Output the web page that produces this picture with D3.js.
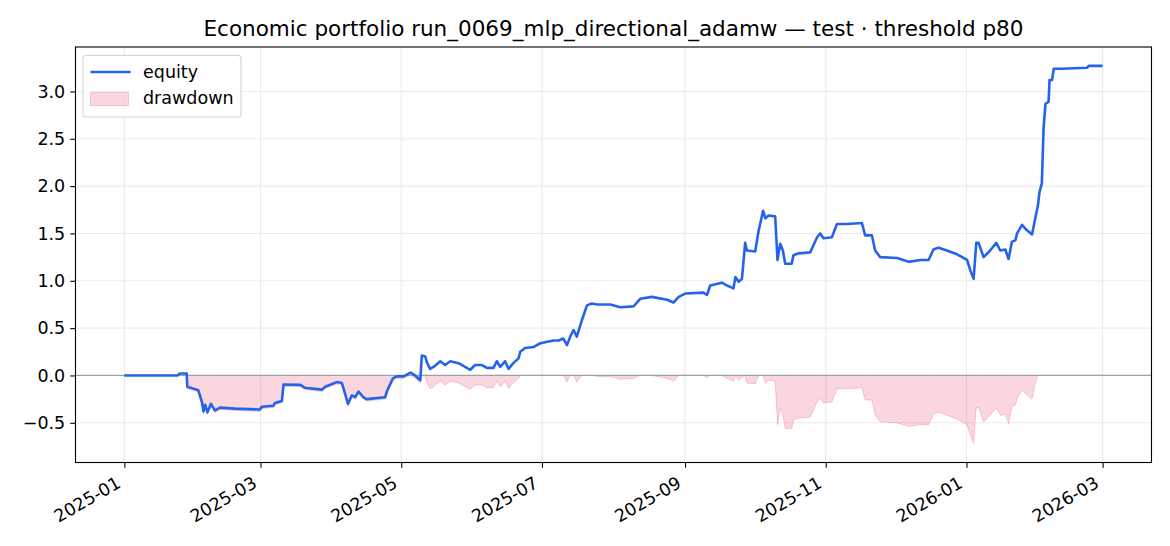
<!DOCTYPE html>
<html>
<head>
<meta charset="utf-8">
<script src="https://cdn.jsdelivr.net/npm/d3@7"></script>
<style>
  body { margin: 0; background: #fff; }
  svg { display: block; font-family: "DejaVu Sans", sans-serif; }
</style>
</head>
<body>
<svg width="1170" height="546"></svg>
<script>
// time stamps (day + hour) of the sampled points
const dates = [
  "2025-01-01 00","2025-01-24 00","2025-01-25 00","2025-01-28 00","2025-01-28 06","2025-02-02 00","2025-02-03 14","2025-02-04 06","2025-02-05 00","2025-02-06 00",
  "2025-02-07 12","2025-02-09 06","2025-02-11 12","2025-02-18 00","2025-02-28 18","2025-03-01 14","2025-03-06 14","2025-03-07 06","2025-03-10 06","2025-03-11 00",
  "2025-03-18 06","2025-03-20 06","2025-03-27 14","2025-03-29 00","2025-04-03 00","2025-04-05 06","2025-04-06 00","2025-04-07 22","2025-04-09 14","2025-04-11 00",
  "2025-04-12 12","2025-04-14 14","2025-04-16 00","2025-04-24 00","2025-04-25 00","2025-04-27 10","2025-04-29 00","2025-05-02 00","2025-05-05 00","2025-05-07 00",
  "2025-05-09 06","2025-05-09 22","2025-05-11 10","2025-05-12 02","2025-05-13 12","2025-05-15 00","2025-05-17 22","2025-05-20 00","2025-05-22 06","2025-05-25 20",
  "2025-05-28 16","2025-05-30 22","2025-06-02 00","2025-06-05 00","2025-06-07 02","2025-06-10 00","2025-06-11 10","2025-06-12 22","2025-06-15 00","2025-06-16 12",
  "2025-06-18 14","2025-06-20 20","2025-06-21 14","2025-06-23 16","2025-06-27 06","2025-06-30 06","2025-07-06 00","2025-07-08 06","2025-07-10 06","2025-07-11 20",
  "2025-07-13 06","2025-07-14 16","2025-07-16 02","2025-07-18 06","2025-07-20 12","2025-07-22 14","2025-07-24 20","2025-07-30 14","2025-08-03 22","2025-08-09 16",
  "2025-08-12 14","2025-08-17 14","2025-08-24 06","2025-08-27 00","2025-08-29 06","2025-09-01 02","2025-09-09 00","2025-09-10 12","2025-09-11 22","2025-09-17 00",
  "2025-09-19 06","2025-09-22 00","2025-09-22 20","2025-09-24 06","2025-09-25 16","2025-09-27 02","2025-09-27 20","2025-10-01 10","2025-10-02 22","2025-10-04 20",
  "2025-10-05 20","2025-10-07 06","2025-10-10 02","2025-10-11 02","2025-10-12 06","2025-10-13 10","2025-10-14 10","2025-10-17 06","2025-10-18 00","2025-10-20 06",
  "2025-10-25 06","2025-10-28 06","2025-10-29 14","2025-10-31 00","2025-11-03 16","2025-11-05 20","2025-11-10 06","2025-11-16 16","2025-11-18 02","2025-11-21 00",
  "2025-11-22 10","2025-11-24 14","2025-12-01 22","2025-12-06 22","2025-12-12 00","2025-12-15 14","2025-12-17 16","2025-12-19 22","2025-12-23 12","2025-12-27 22",
  "2026-01-01 06","2026-01-02 16","2026-01-04 02","2026-01-05 06","2026-01-06 06","2026-01-08 10","2026-01-11 06","2026-01-13 22","2026-01-15 16","2026-01-17 20",
  "2026-01-19 06","2026-01-20 16","2026-01-22 06","2026-01-22 22","2026-01-25 02","2026-01-26 12","2026-01-29 10","2026-01-30 20","2026-02-01 00","2026-02-01 16",
  "2026-02-02 16","2026-02-03 10","2026-02-04 06","2026-02-05 14","2026-02-06 00","2026-02-07 02","2026-02-07 20","2026-02-11 10","2026-02-22 06","2026-02-23 00",
  "2026-03-01 00"
];

const equity = [
  0, 0, 0.02, 0.02, -0.12, -0.155, -0.28, -0.38, -0.31, -0.39,
  -0.30, -0.37, -0.34, -0.35, -0.36, -0.33, -0.32, -0.29, -0.27, -0.095,
  -0.10, -0.13, -0.15, -0.12, -0.07, -0.08, -0.14, -0.30, -0.21, -0.23,
  -0.17, -0.23, -0.25, -0.23, -0.155, -0.03, -0.01, -0.01, 0.03, 0.0,
  -0.05, 0.21, 0.20, 0.14, 0.07, 0.09, 0.15, 0.11, 0.15, 0.13,
  0.09, 0.06, 0.11, 0.11, 0.08, 0.08, 0.15, 0.09, 0.15, 0.07,
  0.13, 0.18, 0.25, 0.29, 0.30, 0.34, 0.37, 0.37, 0.39, 0.32,
  0.41, 0.48, 0.41, 0.58, 0.74, 0.76, 0.75, 0.75, 0.72, 0.73,
  0.81, 0.83, 0.80, 0.77, 0.83, 0.865, 0.875, 0.85, 0.95, 0.98,
  0.95, 0.92, 1.04, 0.99, 1.02, 1.40, 1.32, 1.31, 1.53, 1.74,
  1.66, 1.69, 1.68, 1.22, 1.39, 1.32, 1.18, 1.18, 1.27, 1.29,
  1.30, 1.46, 1.50, 1.45, 1.46, 1.60, 1.60, 1.61, 1.48, 1.48,
  1.32, 1.25, 1.24, 1.20, 1.22, 1.22, 1.33, 1.35, 1.32, 1.28,
  1.22, 1.11, 1.02, 1.40, 1.40, 1.25, 1.32, 1.40, 1.32, 1.33,
  1.23, 1.41, 1.43, 1.50, 1.59, 1.55, 1.49, 1.66, 1.80, 1.94,
  2.03, 2.61, 2.87, 2.89, 3.12, 3.12, 3.24, 3.24, 3.25, 3.27,
  3.27
];

const drawdown = [
  0, 0, 0, 0, -0.14, -0.175, -0.30, -0.40, -0.33, -0.41,
  -0.32, -0.39, -0.36, -0.37, -0.38, -0.35, -0.34, -0.31, -0.29, -0.115,
  -0.12, -0.15, -0.17, -0.14, -0.09, -0.10, -0.16, -0.32, -0.23, -0.25,
  -0.19, -0.25, -0.27, -0.25, -0.175, -0.05, -0.03, -0.03, 0, -0.03,
  -0.08, 0, -0.01, -0.07, -0.14, -0.12, -0.06, -0.10, -0.06, -0.08,
  -0.12, -0.15, -0.10, -0.10, -0.13, -0.13, -0.06, -0.12, -0.06, -0.14,
  -0.08, -0.03, 0, 0, 0, 0, 0, 0, 0, -0.07,
  0, 0, -0.07, 0, 0, 0, -0.01, -0.01, -0.04, -0.03,
  0, 0, -0.03, -0.06, 0, 0, 0, -0.025, 0, 0,
  -0.03, -0.06, 0, -0.05, -0.02, 0, -0.08, -0.09, 0, 0,
  -0.08, -0.05, -0.06, -0.52, -0.35, -0.42, -0.56, -0.56, -0.47, -0.45,
  -0.44, -0.28, -0.24, -0.29, -0.28, -0.14, -0.14, -0.13, -0.26, -0.26,
  -0.42, -0.49, -0.50, -0.54, -0.52, -0.52, -0.41, -0.39, -0.42, -0.46,
  -0.52, -0.63, -0.72, -0.34, -0.34, -0.49, -0.42, -0.34, -0.42, -0.41,
  -0.51, -0.33, -0.31, -0.24, -0.15, -0.19, -0.25, -0.08, 0, 0,
  0, 0, 0, 0, 0, 0, 0, 0, 0, 0,
  0
];

const xTickLabels = ["2025-01","2025-03","2025-05","2025-07","2025-09","2025-11","2026-01","2026-03"];
const yTicks = [-0.5, 0, 0.5, 1.0, 1.5, 2.0, 2.5, 3.0];
const title = "Economic portfolio run_0069_mlp_directional_adamw — test · threshold p80";

const margin = {top: 47, right: 18.5, bottom: 83.5, left: 75.5};
const width = 1170, height = 546;
const innerWidth = width - margin.left - margin.right;
const innerHeight = height - margin.top - margin.bottom;
const fontSize = 17.5;

const parse = d3.timeParse('%Y-%m-%d %H');
const parseMonth = d3.timeParse('%Y-%m');
const data = dates.map((d, i) => ({date: parse(d), eq: equity[i], dd: drawdown[i]}));

const svg = d3.select('svg');

// matplotlib style 5% margins
const xExt = d3.extent(data, d => d.date);
const xPad = (xExt[1] - xExt[0]) * 0.05;
const xScale = d3.scaleTime()
  .domain([new Date(+xExt[0] - xPad), new Date(+xExt[1] + xPad)])
  .range([0, innerWidth]);

const yMin = d3.min(data, d => Math.min(d.eq, d.dd));
const yMax = d3.max(data, d => Math.max(d.eq, d.dd));
const yPad = (yMax - yMin) * 0.05;
const yScale = d3.scaleLinear()
  .domain([yMin - yPad, yMax + yPad])
  .range([innerHeight, 0]);

const g = svg.append('g')
  .attr('transform', `translate(${margin.left},${margin.top})`);

const xTickDates = xTickLabels.map(parseMonth);

// grid
g.append('g').selectAll('line').data(yTicks)
  .enter().append('line')
    .attr('x1', 0).attr('x2', innerWidth)
    .attr('y1', d => yScale(d)).attr('y2', d => yScale(d))
    .attr('stroke', '#ebebeb').attr('stroke-width', 1.1);
g.append('g').selectAll('line').data(xTickDates)
  .enter().append('line')
    .attr('y1', 0).attr('y2', innerHeight)
    .attr('x1', d => xScale(d)).attr('x2', d => xScale(d))
    .attr('stroke', '#ebebeb').attr('stroke-width', 1.1);

// drawdown fill
const area = d3.area()
  .x(d => xScale(d.date))
  .y0(yScale(0))
  .y1(d => yScale(d.dd));

g.append('path')
  .datum(data)
  .attr('d', area)
  .attr('fill', '#e11d48')
  .attr('fill-opacity', 0.18)
  .attr('stroke', '#e11d48')
  .attr('stroke-opacity', 0.2)
  .attr('stroke-width', 1);

// zero line
g.append('line')
  .attr('x1', 0).attr('x2', innerWidth)
  .attr('y1', yScale(0)).attr('y2', yScale(0))
  .attr('stroke', '#9aa1ae')
  .attr('stroke-width', 1.2);

// equity
const line = d3.line()
  .x(d => xScale(d.date))
  .y(d => yScale(d.eq));

g.append('path')
  .datum(data)
  .attr('d', line)
  .attr('fill', 'none')
  .attr('stroke', '#2563eb')
  .attr('stroke-width', 2.6)
  .attr('stroke-linejoin', 'round');

// axes
const yAxis = g.append('g').call(d3.axisLeft(yScale)
    .tickValues(yTicks)
    .tickFormat(d => d3.format('.1f')(d).replace('-', '\u2212'))
    .tickSize(5.25)
    .tickPadding(5)
  );
yAxis.select('.domain').remove();
yAxis.selectAll('line').attr('stroke', '#000').attr('stroke-width', 1.1);
yAxis.selectAll('text').attr('font-size', fontSize).attr('fill', '#000')
  .attr('font-family', '"DejaVu Sans", sans-serif');

const xAxis = g.append('g')
  .attr('transform', `translate(0,${innerHeight})`)
  .call(d3.axisBottom(xScale)
    .tickValues(xTickDates)
    .tickFormat(d3.timeFormat('%Y-%m'))
    .tickSize(5.25)
  );
xAxis.select('.domain').remove();
xAxis.selectAll('line').attr('stroke', '#000').attr('stroke-width', 1.1);
xAxis.selectAll('text')
  .attr('font-size', fontSize).attr('fill', '#000')
  .attr('font-family', '"DejaVu Sans", sans-serif')
  .attr('text-anchor', 'end')
  .attr('dy', null)
  .attr('y', null)
  .attr('transform', 'translate(-3,24) rotate(-30)');

// spines
g.append('rect')
  .attr('width', innerWidth).attr('height', innerHeight)
  .attr('fill', 'none').attr('stroke', '#000').attr('stroke-width', 1.1);

// title
svg.append('text')
  .attr('x', margin.left + innerWidth / 2)
  .attr('y', 36)
  .attr('text-anchor', 'middle')
  .attr('font-size', 21.5)
  .text(title);

// legend
const lg = g.append('g').attr('transform', 'translate(7.5,8.5)');
lg.append('rect')
  .attr('width', 158).attr('height', 61.5)
  .attr('rx', 3).attr('fill', '#fff').attr('fill-opacity', 0.8)
  .attr('stroke', '#d3d3d3').attr('stroke-width', 1.1);
lg.append('line')
  .attr('x1', 7.5).attr('x2', 47.5).attr('y1', 16.5).attr('y2', 16.5)
  .attr('stroke', '#2563eb').attr('stroke-width', 2.6);
lg.append('text')
  .attr('x', 60).attr('y', 16.5).attr('dy', '0.32em')
  .attr('font-size', fontSize).text('equity');
lg.append('rect')
  .attr('x', 7.5).attr('y', 36.5).attr('width', 38).attr('height', 13.5)
  .attr('fill', '#e11d48').attr('fill-opacity', 0.18)
  .attr('stroke', '#e11d48').attr('stroke-opacity', 0.2);
lg.append('text')
  .attr('x', 60).attr('y', 43).attr('dy', '0.32em')
  .attr('font-size', fontSize).text('drawdown');
</script>
</body>
</html>
